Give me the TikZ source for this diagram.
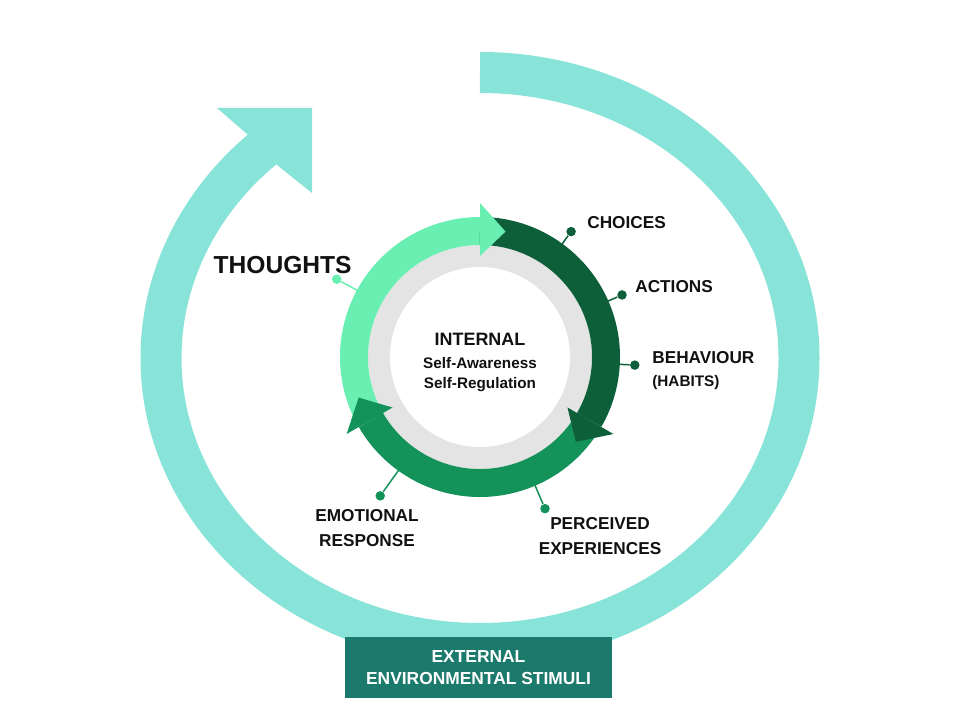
\documentclass[tikz,border=0pt]{standalone}
\usepackage{fontspec}
\setmainfont{Liberation Sans}
\usetikzlibrary{positioning,calc}
\definecolor{ink}{HTML}{111111}
\definecolor{aqua}{HTML}{88E3D9}
\definecolor{mint}{HTML}{69EFB2}
\definecolor{forest}{HTML}{0C5F38}
\definecolor{leaf}{HTML}{13925A}
\definecolor{stimbox}{HTML}{1C7A6C}
\definecolor{ringgrey}{HTML}{E4E4E4}
\tikzset{
  loopline/.style={draw=#1,line width=0.56cm},
  pin/.style={circle,fill=#1,inner sep=0pt,minimum size=0.19cm},
  stem/.style={draw=#1,line width=0.85pt},
  tag/.style={font=\fontsize{9.8}{14.6}\selectfont\bfseries,text=ink,align=center,inner sep=0pt},
  bigtag/.style={tag,font=\fontsize{14}{16}\selectfont\bfseries},
  smalltag/.style={tag,font=\fontsize{8.7}{12}\selectfont\bfseries}
}

\begin{document}
\begin{tikzpicture}[x=0.02cm,y=0.02cm]
    \fill[white] (0,0) rectangle (960,720);
    \useasboundingbox (0,0) rectangle (960,720);
    \coordinate (o) at (480,362);
    \coordinate (c) at (480,363);

    \draw[aqua,line width=0.82cm] ($(o)+(90:319 and 285.5)$) arc[start angle=90,end angle=-229,x radius=319,y radius=285.5];
    \fill[aqua] (217,612) -- (312,612) -- (312,527) -- (277,555) -- (247,586) -- cycle;

    \fill[ringgrey] (c) circle[radius=112];
    \fill[white] (c) circle[radius=90];

    \foreach \col/\s/\e in {mint/210/90,forest/90/-30,leaf/-30/-150}
      \draw[loopline=\col] ($(c)+(\s:126)$) arc[start angle=\s,end angle=\e,radius=126];
    \foreach \col/\a in {mint/90,forest/-30,leaf/210}
      \fill[\col] ($(c)+(\a:101)$) -- ($(c)+(\a:154)$) -- ($(c)+(\a-11.5:128)$) -- cycle;

    \foreach \nm/\col/\a/\r in {thoughts/mint/151.5/163,choices/forest/54/155,actions/forest/23.6/155,behaviour/forest/-3/155,emotional/leaf/234.3/171,perceived/leaf/293.2/165} {
      \coordinate (\nm foot) at ($(c)+(\a:139)$);
      \node[pin=\col] (\nm dot) at ($(c)+(\a:\r)$) {};
      \draw[stem=\col] (\nm foot) -- (\nm dot);
    }

    \node[tag,font=\fontsize{10.2}{12}\selectfont\bfseries] (internal) at (480,381) {INTERNAL};
    \node[smalltag] (awareness) at (480,357) {Self-Awareness};
    \node[smalltag] (regulation) at (480,335) {Self-Regulation};

    \node[bigtag,anchor=east] (thoughts) at (352,455) {THOUGHTS};
    \node[tag,anchor=west] (choices) at (587,497) {CHOICES};
    \node[tag,anchor=west] (actions) at (635,433) {ACTIONS};
    \node[tag,anchor=west] (behaviour) at (652,362) {BEHAVIOUR};
    \node[smalltag,anchor=west] (habits) at (652,337) {(HABITS)};
    \node[tag] (emotional) at (367,192) {EMOTIONAL\\RESPONSE};
    \node[tag] (perceived) at (600,184) {PERCEIVED\\EXPERIENCES};

    \node[fill=stimbox,text=white,minimum width=5.34cm,minimum height=1.22cm,align=center,font=\fontsize{9.9}{12.5}\selectfont\bfseries] (stimuli) at (478.5,52.5) {EXTERNAL\\ENVIRONMENTAL STIMULI};
  \end{tikzpicture}
\end{document}
